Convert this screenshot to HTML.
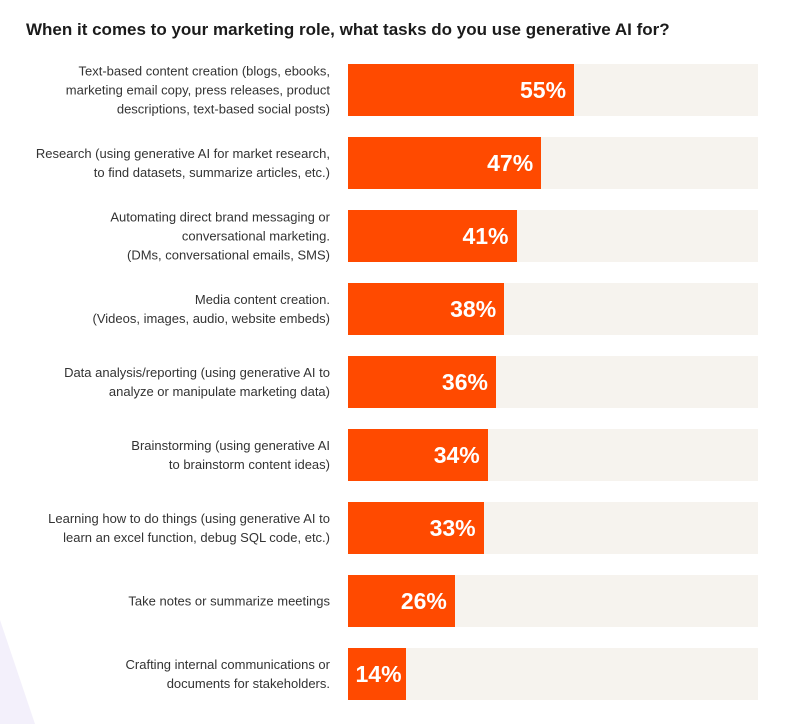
<!DOCTYPE html>
<html><head><meta charset="utf-8"><style>
body{margin:0;width:800px;height:724px;background:#fff;font-family:"Liberation Sans",sans-serif;position:relative;overflow:hidden}
#title{position:absolute;left:26px;top:20px;font-size:17px;font-weight:bold;color:#1b1b1b;margin:0;white-space:nowrap}
.lab{position:absolute;right:470px;width:330px;text-align:right;font-size:13px;line-height:19px;color:#333;transform:translateY(-50%)}
.track{position:absolute;left:348px;width:410px;height:52px;background:#f6f3ee}
.bar{position:absolute;left:0;top:0;height:52px;background:#ff4a00}
.val{position:absolute;right:8px;top:0;line-height:52px;color:#fff;font-weight:bold;font-size:23px}
</style></head><body>
<svg style="position:absolute;left:0;top:600px" width="40" height="124"><polygon points="0,20 35,124 0,124" fill="#f3f0fb"/></svg>
<h1 id="title">When it comes to your marketing role, what tasks do you use generative AI for?</h1>
<div id="chart"></div>
<script>
const categories=["Text-based content creation (blogs, ebooks,<br>marketing email copy, press releases, product<br>descriptions, text-based social posts)","Research (using generative AI for market research,<br>to find datasets, summarize articles, etc.)","Automating direct brand messaging or<br>conversational marketing.<br>(DMs, conversational emails, SMS)","Media content creation.<br>(Videos, images, audio, website embeds)","Data analysis/reporting (using generative AI to<br>analyze or manipulate marketing data)","Brainstorming (using generative AI<br>to brainstorm content ideas)","Learning how to do things (using generative AI to<br>learn an excel function, debug SQL code, etc.)","Take notes or summarize meetings","Crafting internal communications or<br>documents for stakeholders."];
const values=[55,47,41,38,36,34,33,26,14];
const chart=document.getElementById('chart');
const x=v=>v*4.11;
const y=i=>64+i*73;
values.forEach((v,i)=>{
 const l=document.createElement('div');l.className='lab';l.innerHTML=categories[i];l.style.top=(y(i)+26)+'px';
 
 
 chart.appendChild(l);
 const t=document.createElement('div');t.className='track';t.style.top=y(i)+'px';
 
 
 const b=document.createElement('div');b.className='bar';b.style.width=x(v)+'px';
 
 
 const s=document.createElement('span');s.className='val';s.textContent=v+'%';
 
 
 if(v<20){s.style.right='4px';}
 b.appendChild(s);t.appendChild(b);chart.appendChild(t);
});
</script>
</body></html>
